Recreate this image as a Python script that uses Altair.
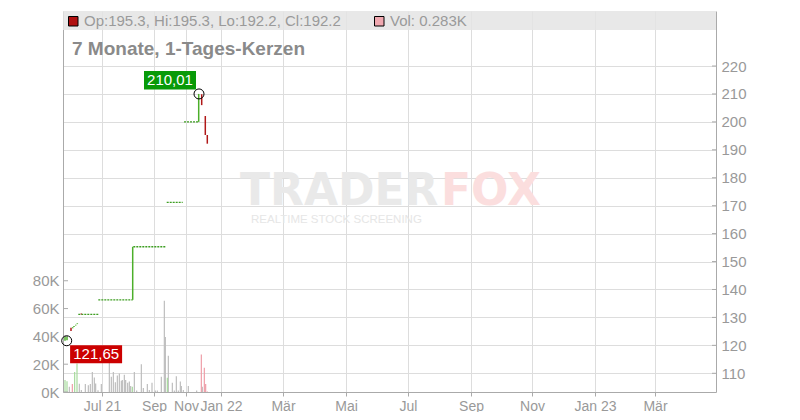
import altair as alt
import pandas as pd

# ---------------- data ----------------
# candle slot index (x), OHLC
cand_t     = [1.0, 2.0, 4.0, 4.85, 5.5, 6.35, 7.15, 9.15, 34.85, 67.85, 69.35, 71.15, 72.15]
cand_open  = [121.65, 122.0, 126.3, 126.1, 126.6, 127.1, 127.6, 131.4, 136.3, 200.0, 209.9, 202.1, 195.3]
cand_high  = [123.1, 123.1, 126.3, 126.5, 126.9, 127.4, 127.9, 131.4, 155.3, 210.01, 209.9, 202.1, 195.3]
cand_low   = [121.65, 121.8, 125.1, 126.1, 126.6, 127.1, 127.6, 131.1, 136.3, 200.0, 206.0, 195.3, 192.2]
cand_close = [123.0, 123.0, 125.1, 126.5, 126.9, 127.4, 127.9, 131.1, 155.3, 209.9, 206.0, 195.3, 192.2]

# periods without trades (price carried forward)
flat_t0    = [7.65, 17.65, 35.15, 51.85, 60.5]
flat_t1    = [17.65, 34.85, 51.5, 59.85, 67.5]
flat_price = [131.1, 136.3, 155.3, 171.2, 200.0]

# volume (thousands)
vol_t = [1.0, 2.0, 3.17, 4.67, 5.83, 7.0, 8.17, 9.17, 11.17, 12.67, 13.67, 14.67, 15.67, 16.33,
         17.5, 19.17, 23.17, 24.17, 25.17, 26.17, 27.17, 28.17, 29.17, 29.67, 30.67, 31.33,
         32.33, 33.17, 33.83, 34.67, 35.67, 36.83, 39.17, 40.17, 42.17, 43.17, 44.5, 46.17,
         47.17, 49.17, 50.67, 51.17, 52.17, 52.67, 54.67, 55.67, 56.67, 57.67, 58.67, 59.17,
         60.17, 62.67, 66.83, 69.17, 69.67, 70.67, 71.33, 72.15]
vol_k = [8.6, 7.7, 3.8, 5.8, 14.4, 20.5, 6.0, 1.4, 5.7, 4.8, 5.7, 14.3, 10.5, 6.2,
         1.2, 5.7, 23.8, 11.0, 14.3, 7.1, 11.9, 13.3, 8.1, 8.6, 12.4, 8.6,
         6.7, 7.6, 4.3, 3.8, 14.3, 1.0, 20.0, 2.9, 5.7, 1.4, 6.7, 1.0,
         1.0, 11.0, 65.7, 39.5, 10.3, 26.0, 6.7, 1.0, 11.4, 1.0, 7.6, 4.3,
         1.4, 4.3, 1.0, 27.0, 3.8, 17.4, 5.7, 0.283]
vol_kind = ["up", "up", "n", "down", "up", "up", "n", "n", "n", "n", "n", "n", "n", "n",
            "n", "n", "n", "n", "n", "n", "n", "n", "n", "n", "n", "n",
            "n", "n", "n", "up", "n", "n", "n", "n", "n", "n", "n", "n",
            "n", "n", "n", "n", "up", "n", "n", "n", "n", "n", "n", "n",
            "n", "n", "n", "down", "n", "down", "down", "down"]

# x axis ticks (slot index) and labels
tick_t     = [19.5, 45.5, 61.5, 79, 110, 141.5, 172.5, 204, 234.5, 266, 296]
tick_label = ["Jul 21", "Sep", "Nov", "Jan 22", "Mär", "Mai", "Jul", "Sep", "Nov", "Jan 23", "Mär"]
year_labels = ["Jul 21", "Jan 22", "Jan 23"]

price_ticks = [110, 120, 130, 140, 150, 160, 170, 180, 190, 200, 210, 220]
vol_ticks   = [0, 20, 40, 60, 80]

hi_t, hi_price = 68.0, 210.01
lo_t, lo_price = 1.85, 121.65

last_o, last_h, last_l, last_c, last_vol = 195.3, 195.3, 192.2, 192.2, 0.283

title_text = "7 Monate, 1-Tages-Kerzen"

# ---------------- styling ----------------
FONT = "Liberation Sans"
GREEN = "#3e9e22"
RED = "#b01818"
W, H = 653, 381

xs = alt.Scale(domain=[0, 326.5], nice=False, zero=False)
ps = alt.Scale(domain=[103.3, 239.7], nice=False, zero=False)
vs = alt.Scale(domain=[0, 274], nice=False, zero=True)

label_expr = " : ".join(f"datum.value == {v} ? '{l}'" for v, l in zip(tick_t, tick_label)) + " : ''"
year_test = " || ".join(f"datum.label == '{l}'" for l in year_labels)

x_axis = alt.Axis(values=tick_t, labelExpr=label_expr, grid=True, gridColor="#dddddd",
                  domainColor="#aaaaaa", tickColor="#aaaaaa", tickSize=4,
                  labelFont=FONT, labelFontSize=14, labelColor="#999999", labelPadding=3,
                  labelOverlap=False, labelFlush=False, title=None,
                  labelFontWeight=alt.condition(year_test, alt.value("bold"), alt.value("normal")))
p_axis = alt.Axis(orient="right", values=price_ticks, grid=True, gridColor="#dddddd", ticks=False,
                  domainColor="#aaaaaa", labelPadding=5, labelFont=FONT, labelFontSize=15,
                  labelColor="#999999", title=None)
v_axis = alt.Axis(orient="left", values=vol_ticks, labelExpr="datum.value + 'K'", grid=False,
                  ticks=False, domainColor="#aaaaaa", labelPadding=4, labelFont=FONT,
                  labelFontSize=15, labelColor="#999999", title=None)

X = lambda f: alt.X(f, type="quantitative", scale=xs, axis=x_axis)
PY = lambda f: alt.Y(f, type="quantitative", scale=ps, axis=p_axis)
VY = lambda f: alt.Y(f, type="quantitative", scale=vs, axis=v_axis)

# ---------------- frames ----------------
cand_df = pd.DataFrame(dict(t=cand_t, o=cand_open, h=cand_high, l=cand_low, c=cand_close))
flat_df = pd.DataFrame(dict(t0=flat_t0, t1=flat_t1, p=flat_price))
vol_df = pd.DataFrame(dict(t=vol_t, v=vol_k, kind=vol_kind))
pt_df = pd.DataFrame(dict(p=price_ticks))
vt_df = pd.DataFrame(dict(v=vol_ticks))
fmt = lambda v: f"{v:.2f}".replace(".", ",")
hi_df = pd.DataFrame(dict(t=[hi_t], p=[hi_price], lab=[fmt(hi_price)]))
lo_df = pd.DataFrame(dict(t=[lo_t], p=[lo_price], lab=[fmt(lo_price)]))
ext_df = pd.concat([hi_df, lo_df])
one = pd.DataFrame(dict(a=[0]))

# ---------------- decorations ----------------
band = alt.Chart(one).mark_rect(color="#e4e4e4", opacity=0.85).encode(
    x=alt.value(0), x2=alt.value(W), y=alt.value(0), y2=alt.value(19))
wm1 = alt.Chart(one).mark_text(text="TRADER", font="DejaVu Sans", fontWeight="bold", fontSize=44,
                               color="#e9e9e9", align="left", baseline="alphabetic").encode(
    x=alt.value(177), y=alt.value(194))
wm2 = alt.Chart(one).mark_text(text="FOX", font="DejaVu Sans", fontWeight="bold", fontSize=44,
                               color="#fbdede", align="left", baseline="alphabetic").encode(
    x=alt.value(378), y=alt.value(194))
wm3 = alt.Chart(one).mark_text(text="REALTIME STOCK SCREENING", font=FONT, fontSize=11.5,
                               color="#e6e6e6", align="left", baseline="alphabetic").encode(
    x=alt.value(188), y=alt.value(212))

hdr_df = pd.DataFrame(dict(
    ohlc=[f"Op:{last_o}, Hi:{last_h}, Lo:{last_l}, Cl:{last_c}"],
    vol=[f"Vol: {last_vol}K"]))
sq1 = alt.Chart(one).mark_rect(color="#b01010", stroke="black", strokeWidth=1).encode(
    x=alt.value(5.5), x2=alt.value(15), y=alt.value(5.5), y2=alt.value(15))
sq2 = alt.Chart(one).mark_rect(color="#f0a8b0", stroke="black", strokeWidth=1).encode(
    x=alt.value(311.5), x2=alt.value(321), y=alt.value(5.5), y2=alt.value(15))
t1 = alt.Chart(hdr_df).mark_text(font=FONT, fontSize=15, color="#9a9a9a", align="left",
                                 baseline="alphabetic").encode(
    x=alt.value(21), y=alt.value(15), text="ohlc:N")
t2 = alt.Chart(hdr_df).mark_text(font=FONT, fontSize=15, color="#9a9a9a", align="left",
                                 baseline="alphabetic").encode(
    x=alt.value(327), y=alt.value(15), text="vol:N")
ttl = alt.Chart(one).mark_text(text=title_text, font=FONT, fontSize=19, fontWeight="bold",
                               color="#8a8a8a", align="left", baseline="alphabetic").encode(
    x=alt.value(9), y=alt.value(44))

# ---------------- volume ----------------
def vol_layer(kind, color):
    return alt.Chart(vol_df).transform_filter(f"datum.kind == '{kind}'").transform_calculate(
        z="0").mark_rule(color=color, strokeWidth=1.2).encode(
        x=X("t"), y=VY("v"), y2="z:Q")

vticks = alt.Chart(vt_df).mark_rule(color="#aaaaaa").encode(
    x=alt.value(0), x2=alt.value(5), y=VY("v"))
vol_group = alt.layer(vol_layer("n", "#bdbdbd"), vol_layer("up", "#a6da9c"),
                      vol_layer("down", "#ee9ea8"), vticks)

# ---------------- price ----------------
flat = alt.Chart(flat_df).mark_rule(color=GREEN, strokeWidth=1.3, strokeDash=[2, 1]).encode(
    x=X("t0"), x2="t1:Q", y=PY("p"))
up = alt.Chart(cand_df).transform_filter("datum.c >= datum.o").mark_rule(
    color="#4caf2a", strokeWidth=1.5).encode(x=X("t"), y=PY("l"), y2="h:Q")
down = alt.Chart(cand_df).transform_filter("datum.c < datum.o").mark_rule(
    color=RED, strokeWidth=1.5).encode(x=X("t"), y=PY("l"), y2="h:Q")
pticks = alt.Chart(pt_df).mark_rule(color="#aaaaaa").encode(
    x=alt.value(W - 4), x2=alt.value(W), y=PY("p"))
circ = alt.Chart(ext_df).mark_point(shape="circle", size=100, filled=False, color="black",
                                    strokeWidth=1, opacity=1).encode(x=X("t"), y=PY("p"))
hi_box = alt.Chart(hi_df).mark_rect(color="#089a08", xOffset=-55, x2Offset=-3,
                                    yOffset=-23, y2Offset=-4.5).encode(
    x=X("t"), x2="t:Q", y=PY("p"), y2="p:Q")
hi_txt = alt.Chart(hi_df).mark_text(font=FONT, fontSize=15, color="white", dx=-29, dy=-13.5,
                                    align="center", baseline="middle").encode(
    x=X("t"), y=PY("p"), text="lab:N")
lo_box = alt.Chart(lo_df).mark_rect(color="#cc0000", xOffset=3.4, x2Offset=55.4,
                                    yOffset=4.5, y2Offset=22.5).encode(
    x=X("t"), x2="t:Q", y=PY("p"), y2="p:Q")
lo_txt = alt.Chart(lo_df).mark_text(font=FONT, fontSize=15, color="white", dx=29.5, dy=13.5,
                                    align="center", baseline="middle").encode(
    x=X("t"), y=PY("p"), text="lab:N")
price_group = alt.layer(flat, up, down, pticks, circ, hi_box, hi_txt, lo_box, lo_txt)

chart = alt.layer(band, wm1, wm2, wm3, vol_group, price_group, sq1, sq2, t1, t2, ttl).resolve_scale(
    y="independent").properties(
    width=W, height=H,
    padding={"left": 55, "top": 3, "right": 76, "bottom": 20},
    autosize=alt.AutoSizeParams(type="none"),
    background="white",
).configure_view(stroke=None)

chart.save("out.html", embed_options={"renderer": "svg", "actions": False})
